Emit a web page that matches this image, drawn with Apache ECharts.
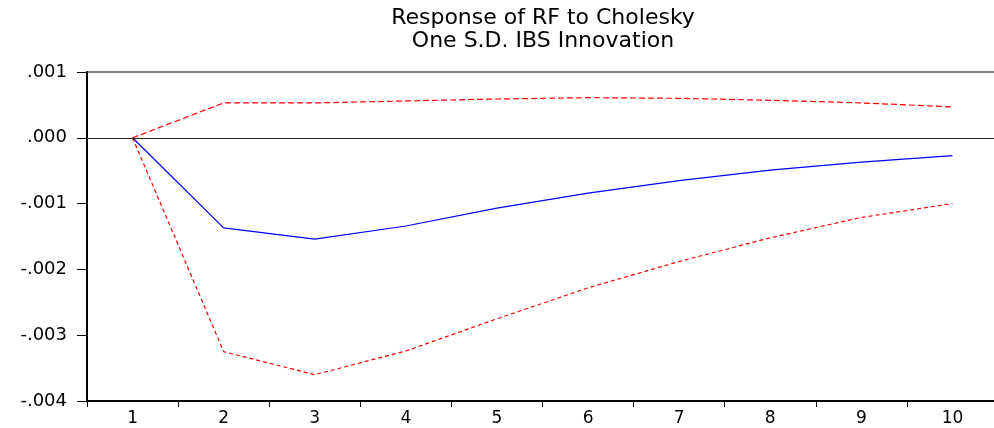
<!DOCTYPE html>
<html>
<head>
<meta charset="utf-8">
<script src="https://cdn.jsdelivr.net/npm/echarts@6/dist/echarts.min.js"></script>
<style>
  html, body { margin: 0; padding: 0; background: #fff; }
  #chart { width: 994px; height: 428px; }
</style>
</head>
<body>
<div id="chart"></div>
<script>
// periods 1..10
var periods = ['1', '2', '3', '4', '5', '6', '7', '8', '9', '10'];
// impulse response (solid blue)
var response = [0, -0.00137, -0.00154, -0.00134, -0.00107, -0.00084, -0.00065, -0.00049, -0.00037, -0.00027];
// +/- 2 S.E. bands (dashed red)
var upperBand = [0, 0.00053, 0.00053, 0.00056, 0.00059, 0.00061, 0.00060, 0.00057, 0.00053, 0.00047];
var lowerBand = [0, -0.00325, -0.00360, -0.00324, -0.00275, -0.00228, -0.00188, -0.00152, -0.00121, -0.00100];

var myChart = echarts.init(document.getElementById('chart'));

function fmt(v) {
    var s = Number(v).toFixed(3);
    if (s === '-0.000') s = '0.000';
    return s.replace('0.', '.');
}

var labelFont = 'DejaVu Sans';

var option = {
    backgroundColor: '#fff',
    animation: false,
    title: {
        text: 'Response of RF to Cholesky\nOne S.D. IBS Innovation',
        left: 538,
        textAlign: 'center',
        top: 2,
        textStyle: {
            color: '#000',
            fontFamily: labelFont,
            fontWeight: 'normal',
            fontSize: 22,
            lineHeight: 23
        }
    },
    grid: {
        left: 87,
        top: 72,
        width: 911,
        bottom: 27,
        outerBoundsMode: 'none',
        containLabel: false,
        show: true,
        borderColor: '#000',
        borderWidth: 1,
        backgroundColor: 'transparent'
    },
    xAxis: {
        type: 'category',
        data: periods,
        boundaryGap: true,
        axisLine: { onZero: false, lineStyle: { color: '#000', width: 2 } },
        axisTick: { show: true, length: 6, lineStyle: { color: '#000', width: 1 } },
        axisLabel: { color: '#000', fontFamily: labelFont, fontSize: 17, margin: 9 },
        splitLine: { show: false }
    },
    yAxis: {
        type: 'value',
        min: -0.004,
        max: 0.001,
        interval: 0.001,
        axisLine: { show: true, lineStyle: { color: '#000', width: 2 } },
        axisTick: { show: true, length: 10, lineStyle: { color: '#000', width: 1 } },
        axisLabel: { color: '#000', fontFamily: labelFont, fontSize: 18, margin: 20, formatter: fmt },
        splitLine: { show: false }
    },
    series: [
        {
            name: 'upper',
            type: 'line',
            data: upperBand,
            symbol: 'none',
            lineStyle: { color: '#ff0000', width: 1.2, type: [6, 3] },
            markLine: {
                silent: true,
                symbol: 'none',
                label: { show: false },
                lineStyle: { color: '#222', width: 1, type: 'solid' },
                data: [{ yAxis: 0 }]
            }
        },
        {
            name: 'response',
            type: 'line',
            data: response,
            symbol: 'none',
            lineStyle: { color: '#0000ff', width: 1.2 }
        },
        {
            name: 'lower',
            type: 'line',
            data: lowerBand,
            symbol: 'none',
            lineStyle: { color: '#ff0000', width: 1.2, type: [4, 3] }
        }
    ]
};

myChart.setOption(option);
</script>
</body>
</html>
